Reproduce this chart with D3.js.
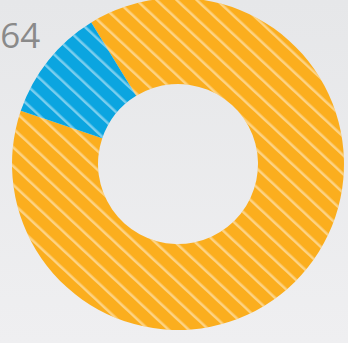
<!DOCTYPE html>
<html>
<head>
<meta charset="utf-8">
<script src="https://cdn.jsdelivr.net/npm/d3@7"></script>
<style>
  html, body { margin: 0; padding: 0; overflow: hidden; }
  svg { display: block; }
</style>
</head>
<body>
<svg id="chart" width="348" height="343"></svg>
<script>
// Slice data
const categories = ["Other", "Selected"];
const values = [515, 64];
const colors = ["#FBAE1E", "#0BA5E0"];
const labels = ["", "64"];

const width = 348, height = 343;
const cx = 178, cy = 164;
const outerR = 166, innerR = 80, labelR = 202;

const svg = d3.select("#chart");
const defs = svg.append("defs");

// Soft grey backdrop
const bg = defs.append("linearGradient")
  .attr("id", "bg").attr("x1", 0).attr("y1", 0).attr("x2", 0).attr("y2", 1);
bg.append("stop").attr("offset", "0%").attr("stop-color", "#E6E7E9");
bg.append("stop").attr("offset", "100%").attr("stop-color", "#EFEFF1");
svg.append("rect").attr("width", width).attr("height", height).attr("fill", "url(#bg)");

// Diagonal hatching laid over every slice
const hatch = defs.append("pattern")
  .attr("id", "hatch")
  .attr("patternUnits", "userSpaceOnUse")
  .attr("width", 13.7).attr("height", 40)
  .attr("patternTransform", "translate(25.5,200) rotate(-47)");
hatch.append("rect")
  .attr("x", 0).attr("y", 0).attr("width", 2.5).attr("height", 40)
  .attr("fill", "#fff").attr("fill-opacity", 0.45);

const start = -31.5 * Math.PI / 180;
const pie = d3.pie().sort(null).value(d => d)
  .startAngle(start).endAngle(start + 2 * Math.PI);
const arcs = pie(values);

const arc = d3.arc().innerRadius(innerR).outerRadius(outerR);
const labelArc = d3.arc().innerRadius(labelR).outerRadius(labelR);

const g = svg.append("g").attr("transform", `translate(${cx},${cy})`);

g.selectAll("path.slice")
  .data(arcs)
  .join("path")
  .attr("class", "slice")
  .attr("d", arc)
  .attr("fill", (d, i) => colors[i]);

// hatch overlay in page coordinates so stripes stay continuous
svg.append("g").attr("transform", `translate(${cx},${cy})`)
  .selectAll("path.hatch")
  .data(arcs)
  .join("path")
  .attr("class", "hatch")
  .attr("d", arc)
  .attr("fill", "url(#hatch)");

g.selectAll("text.value")
  .data(arcs)
  .join("text")
  .attr("class", "value")
  .attr("transform", d => `translate(${labelArc.centroid(d)})`)
  .attr("text-anchor", "middle")
  .attr("dy", "0.3em")
  .attr("font-family", "'Open Sans', sans-serif")
  .attr("font-size", 35)
  .attr("fill", "#8A8A8A")
  .text((d, i) => labels[i]);
</script>
</body>
</html>
